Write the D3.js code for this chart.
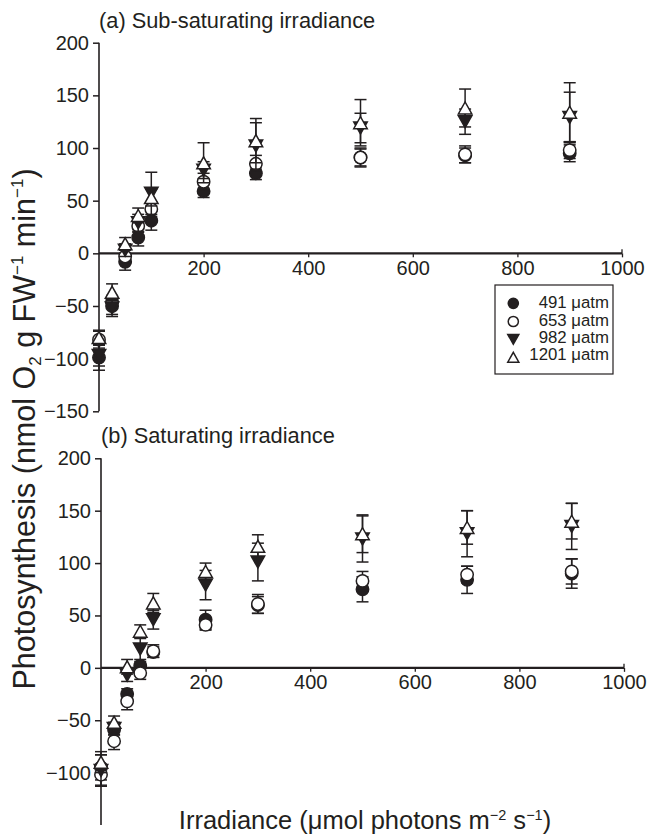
<!DOCTYPE html>
<html><head><meta charset="utf-8">
<script src="https://cdn.jsdelivr.net/npm/d3@7"></script>
<style>
body{margin:0;background:#fff;}
svg text{font-family:"Liberation Sans",Arial,Helvetica,sans-serif;fill:#231f20;}
</style></head>
<body><svg id="c" width="647" height="834"></svg>
<script>
const irradiance = [0, 25, 50, 75, 100, 200, 300, 500, 700, 900];
const co2Levels = ["491 μatm", "653 μatm", "982 μatm", "1201 μatm"];
const xTicks = [200, 400, 600, 800, 1000];
const yTicksA = [-150, -100, -50, 0, 50, 100, 150, 200];
const yTicksB = [-100, -50, 0, 50, 100, 150, 200];

// Panel (a) sub-saturating irradiance
const a491 = [-99, -50, -8, 15, 31, 59, 76, 91, 93, 95];
const a653 = [-82, -46, -3, 26, 42, 68, 85, 91, 94, 98];
const a982 = [-97, -52, 3, 29, 57, 79, 102, 119, 125, 129];
const a1201 = [-80, -37, 9, 36, 53, 86, 107, 124, 138, 134];
const a491Err = [12, 8, 8, 8, 9, 6, 6, 8, 7, 8];
const a653Err = [8, 6, 6, 6, 7, 8, 8, 9, 8, 8];
const a982Err = [10, 8, 6, 8, 20, 8, 22, 14, 12, 24];
const a1201Err = [7, 8, 6, 7, 8, 19, 21, 22, 18, 28];

// Panel (b) saturating irradiance
const b491 = [-95, -59, -25, 2, 15, 46, 60, 75, 84, 90];
const b653 = [-102, -70, -32, -5, 16, 41, 61, 83, 89, 92];
const b982 = [-98, -58, -7, 18, 46, 79, 101, 123, 128, 135];
const b1201 = [-90, -52, 1, 35, 62, 92, 116, 128, 134, 140];
const b491Err = [12, 5, 5, 4, 5, 9, 8, 12, 13, 14];
const b653Err = [10, 8, 8, 6, 6, 5, 9, 9, 8, 12];
const b982Err = [15, 6, 6, 10, 9, 14, 18, 22, 22, 22];
const b1201Err = [10, 6, 7, 6, 9, 8, 11, 18, 16, 17];

const ink = "#231f20";
const svg = d3.select("#c");

const markerTypes = ["fcircle", "ocircle", "dtri", "otri"];

function drawMarker(g, type, x, y, s) {
  if (type === "fcircle" || type === "ocircle") {
    g.append("circle").attr("cx", x).attr("cy", y).attr("r", 6.2 * s)
      .attr("fill", type === "fcircle" ? ink : "#fff")
      .attr("stroke", ink).attr("stroke-width", 1.5);
  } else {
    const w = 13.5 * s, h = 12 * s;
    let pts;
    if (type === "dtri") pts = [[x - w/2, y - h/2], [x + w/2, y - h/2], [x, y + h/2]];
    else pts = [[x - w/2, y + h/2], [x + w/2, y + h/2], [x, y - h/2]];
    g.append("path").attr("d", d3.line()(pts) + "Z")
      .attr("fill", type === "dtri" ? ink : "#fff")
      .attr("stroke", ink).attr("stroke-width", 1.5).attr("stroke-linejoin", "miter");
  }
}

function panel(opts) {
  const { x, y, series, errs, yTicks, title, titleY } = opts;
  const g = svg.append("g");
  // y axis
  const yAxis = d3.axisLeft(y).tickValues(yTicks).tickSize(6).tickSizeOuter(0)
    .tickFormat(d => d < 0 ? "\u2212" + Math.abs(d) : d).tickPadding(4);
  const ga = g.append("g").attr("transform", `translate(${x(0)},0)`).call(yAxis);
  ga.select(".domain").remove();
  ga.selectAll("line").attr("stroke", ink).attr("stroke-width", 1.5);
  ga.selectAll("text").attr("font-size", 20).style("fill", ink);
  g.append("line").attr("x1", x(0)).attr("x2", x(0))
    .attr("y1", y(200)).attr("y2", y(-150)).attr("stroke", ink).attr("stroke-width", 1.6);
  // x axis
  const xAxis = d3.axisBottom(x).tickValues(xTicks).tickSize(4).tickSizeOuter(0)
    .tickPadding(3).tickFormat(d3.format("d"));
  const gx = g.append("g").attr("transform", `translate(0,${y(0)})`).call(xAxis);
  gx.select(".domain").remove();
  gx.selectAll("line").attr("stroke", ink).attr("stroke-width", 1.3);
  gx.selectAll("text").attr("font-size", 20).style("fill", ink);
  g.append("line").attr("x1", x(0)).attr("x2", x(1000))
    .attr("y1", y(0)).attr("y2", y(0)).attr("stroke", ink).attr("stroke-width", 2.2);
  g.append("line").attr("x1", x(1000)).attr("x2", x(1000))
    .attr("y1", y(0)).attr("y2", y(0) - 4).attr("stroke", ink).attr("stroke-width", 1.3);
  // title
  g.append("text").attr("x", x(0)).attr("y", titleY).attr("font-size", 21.8).text(title);
  // data
  series.forEach((vals, si) => {
    const gs = g.append("g");
    vals.forEach((v, i) => {
      const px = x(irradiance[i]);
      const e = errs[si][i];
      gs.append("line").attr("x1", px).attr("x2", px).attr("y1", y(v - e)).attr("y2", y(v + e))
        .attr("stroke", ink).attr("stroke-width", 1.5);
      [v - e, v + e].forEach(ev => gs.append("line").attr("x1", px - 6).attr("x2", px + 6)
        .attr("y1", y(ev)).attr("y2", y(ev)).attr("stroke", ink).attr("stroke-width", 1.5));
    });
    vals.forEach((v, i) => drawMarker(gs, markerTypes[si], x(irradiance[i]), y(v), 1));
  });
}

const xA = d3.scaleLinear().domain([0, 1000]).range([99, 622]);
const yA = d3.scaleLinear().domain([-150, 200]).range([411.3, 42.7]);
const xB = d3.scaleLinear().domain([0, 1000]).range([101, 624]);
const yB = d3.scaleLinear().domain([-150, 200]).range([825, 458.3]);

panel({ x: xA, y: yA, series: [a491, a653, a982, a1201],
  errs: [a491Err, a653Err, a982Err, a1201Err], yTicks: yTicksA,
  title: "(a) Sub-saturating irradiance", titleY: 28 });
panel({ x: xB, y: yB, series: [b491, b653, b982, b1201],
  errs: [b491Err, b653Err, b982Err, b1201Err], yTicks: yTicksB,
  title: "(b) Saturating irradiance", titleY: 443 });

// legend
const lg = svg.append("g");
lg.append("rect").attr("x", 495).attr("y", 285).attr("width", 118).attr("height", 89)
  .attr("fill", "#fff").attr("stroke", ink).attr("stroke-width", 1.2);
const legendMarkerY = [303.3, 321.5, 339.3, 357.3];
co2Levels.forEach((lab, i) => {
  drawMarker(lg, markerTypes[i], 513.3, legendMarkerY[i], 0.82);
  lg.append("text").attr("x", 609).attr("y", 308.3 + i * 17.3).attr("text-anchor", "end")
    .attr("font-size", 16.8).text(lab);
});

// axis titles
const yl = svg.append("text").attr("transform", "translate(35,429) rotate(-90)")
  .attr("text-anchor", "middle").attr("font-size", 30.5);
yl.append("tspan").text("Photosynthesis (nmol O");
yl.append("tspan").attr("font-size", 17).attr("dy", 6).text("2");
yl.append("tspan").attr("dy", -6).text(" g FW");
yl.append("tspan").attr("font-size", 17).attr("dy", -12).text("\u22121");
yl.append("tspan").attr("dy", 12).text(" min");
yl.append("tspan").attr("font-size", 17).attr("dy", -12).text("\u22121");
yl.append("tspan").attr("dy", 12).text(")");

const xl = svg.append("text").attr("x", 365).attr("y", 829)
  .attr("text-anchor", "middle").attr("font-size", 25.5);
xl.append("tspan").text("Irradiance (μmol photons m");
xl.append("tspan").attr("font-size", 14.5).attr("dy", -9).text("\u22122");
xl.append("tspan").attr("dy", 9).text(" s");
xl.append("tspan").attr("font-size", 14.5).attr("dy", -9).text("\u22121");
xl.append("tspan").attr("dy", 9).text(")");
</script></body></html>
